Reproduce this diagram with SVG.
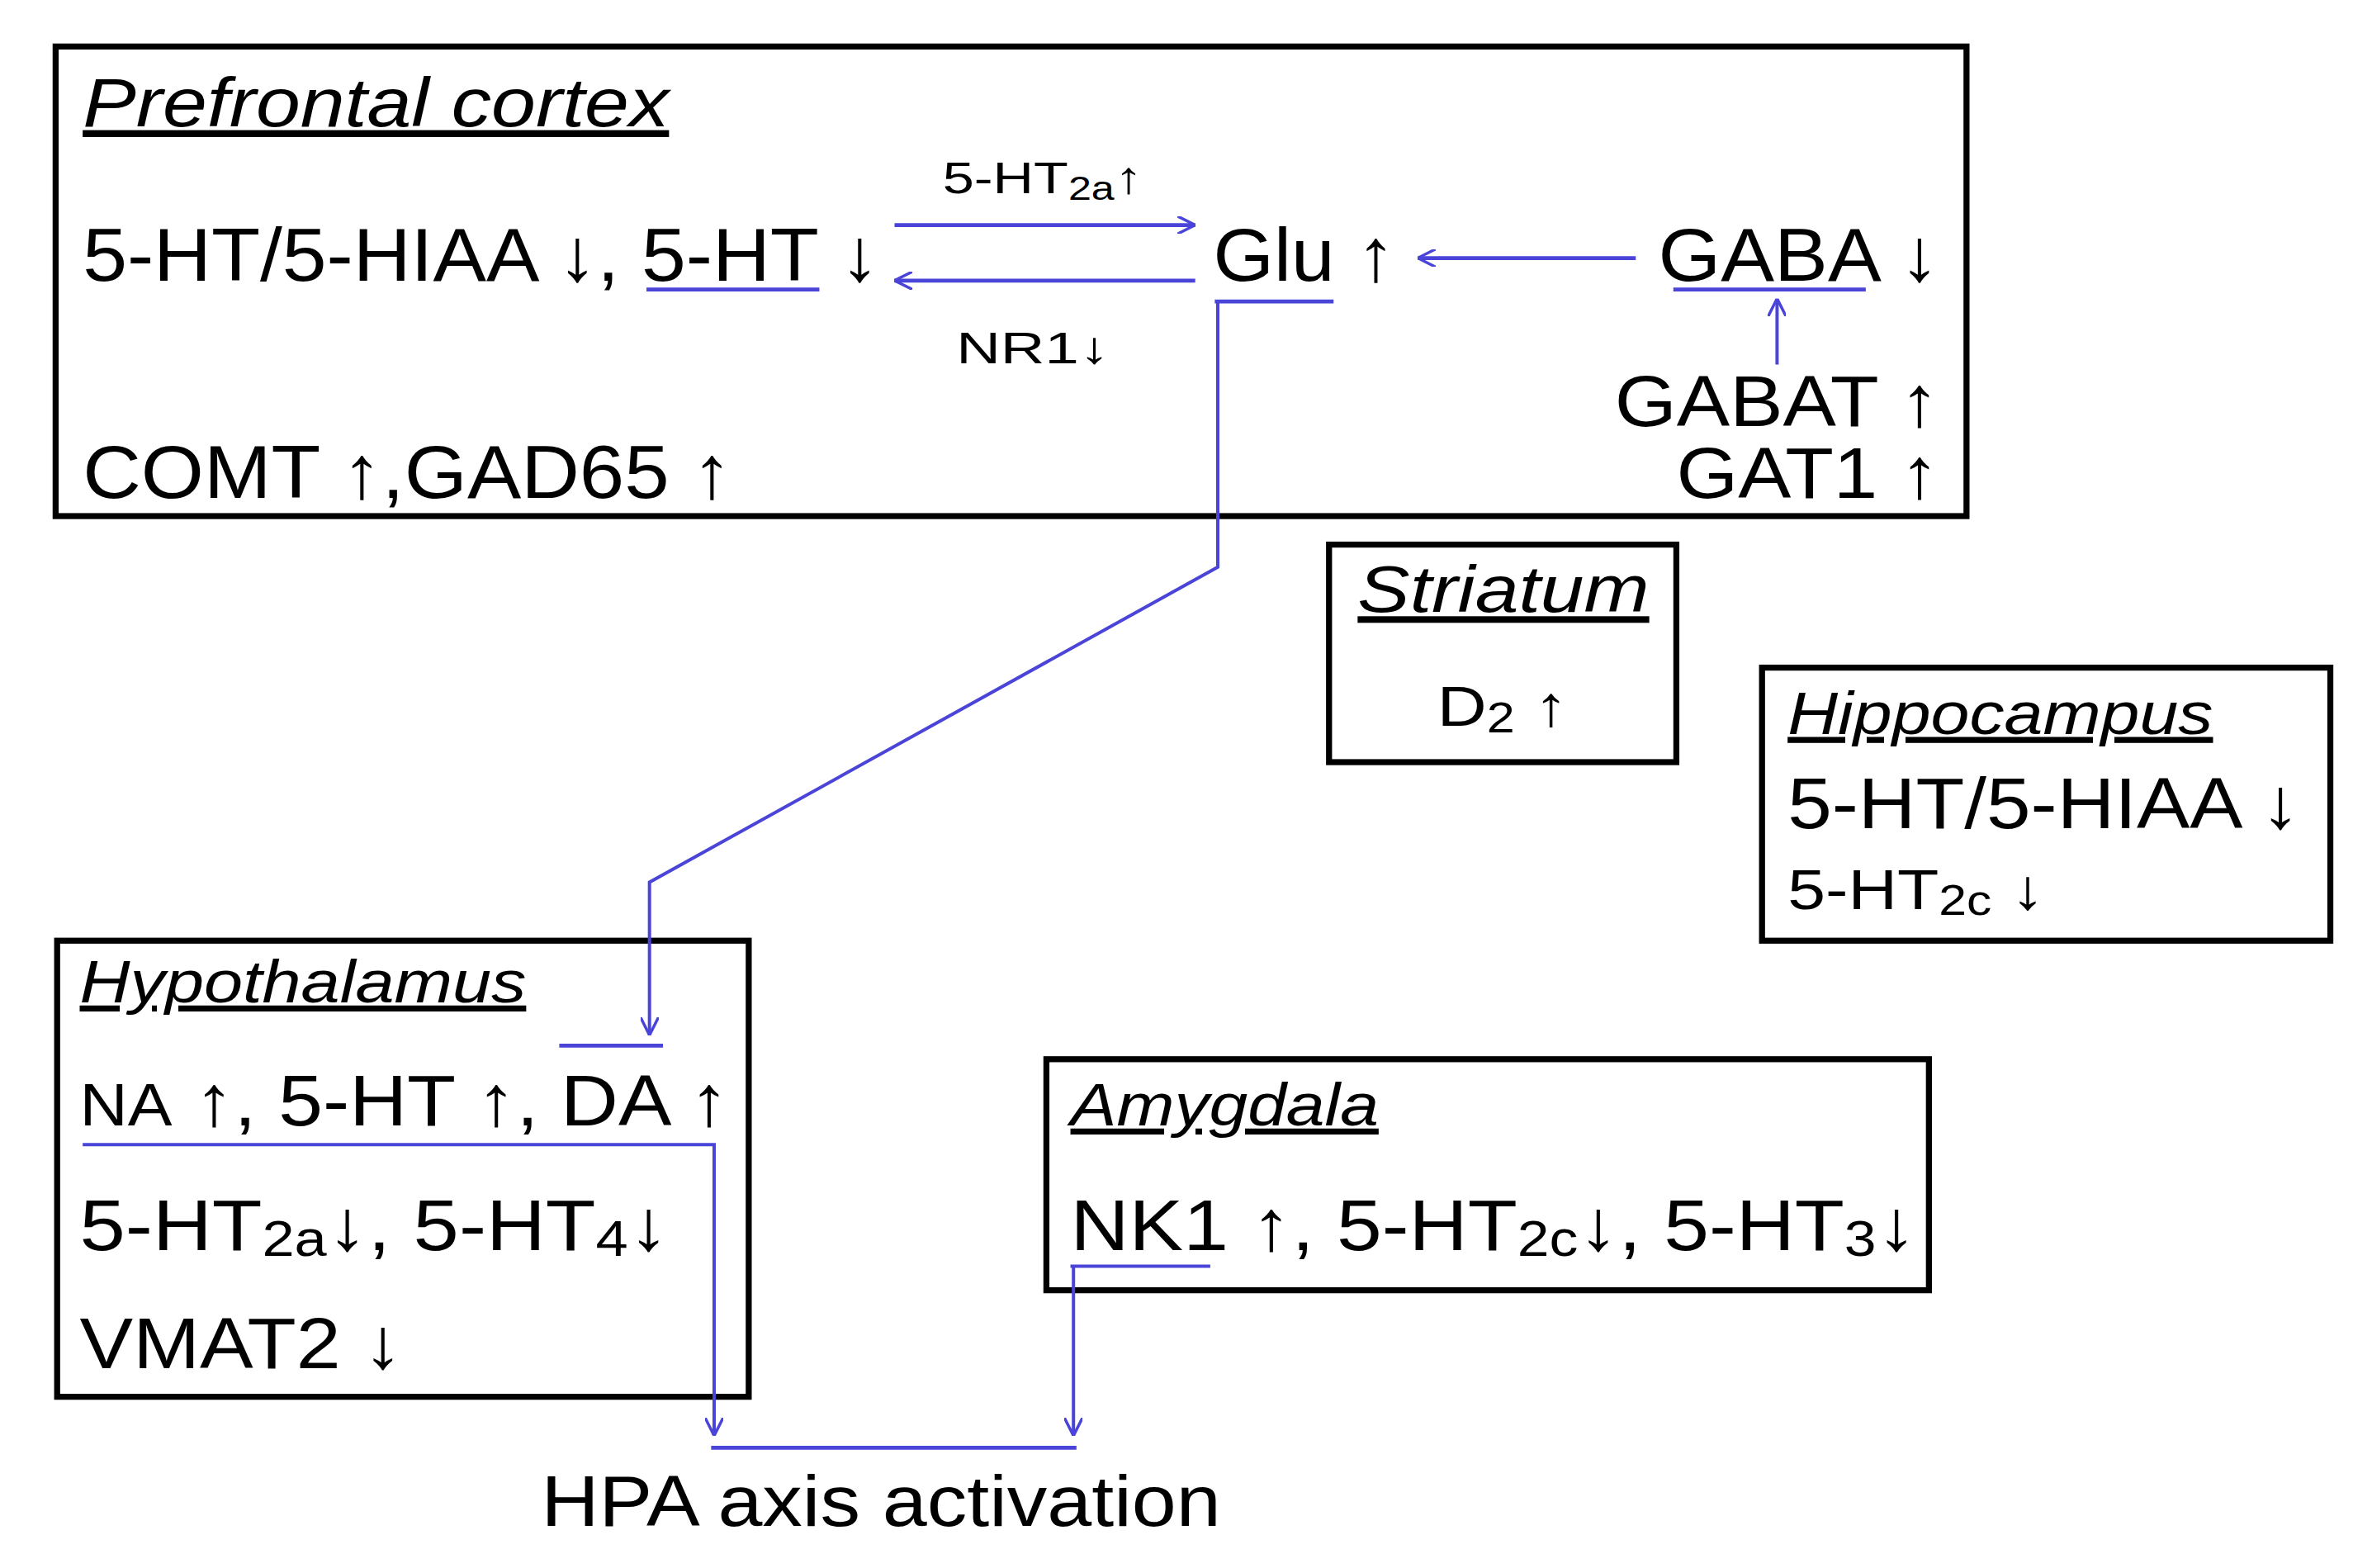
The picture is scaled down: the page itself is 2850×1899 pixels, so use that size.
<svg xmlns="http://www.w3.org/2000/svg" width="2850" height="1899" viewBox="0 0 2850 1899">
<style>
text{font-family:"Liberation Sans",Arial,sans-serif;fill:#000}
.box{fill:none;stroke:#000;stroke-width:4}
.t{font-style:italic;text-decoration:underline}
.c{fill:none;stroke:#4a45d8;stroke-width:2.2}
.u{fill:none;stroke:#4a45d8;stroke-width:2.6}
</style>
<defs>
<marker id="a" viewBox="0 0 10 10" refX="10" refY="5" markerWidth="12" markerHeight="12" markerUnits="userSpaceOnUse" orient="auto"><path d="M0,0 L10,5 L0,10" fill="none" stroke="#4a45d8" stroke-width="1.6"/></marker>
</defs>
<rect width="2850" height="1899" fill="#fff"/>
<g transform="scale(1.821,1.817)">
<g id="pfc">
<rect class="box" x="37" y="31" width="1271" height="313"/>
<text class="t" x="55" y="84" font-size="46" textLength="390" lengthAdjust="spacingAndGlyphs">Prefrontal cortex</text>
<text x="55" y="187" font-size="50" textLength="530" lengthAdjust="spacingAndGlyphs">5-HT/5-HIAA ↓, 5-HT ↓</text>
<text x="807" y="187" font-size="50" textLength="121" lengthAdjust="spacingAndGlyphs">Glu ↑</text>
<text x="1103" y="187" font-size="50" textLength="187" lengthAdjust="spacingAndGlyphs">GABA ↓</text>
<text x="627" y="129" font-size="30" textLength="133" lengthAdjust="spacingAndGlyphs">5-HT<tspan font-size="22" dy="4">2a</tspan><tspan dy="-4">↑</tspan></text>
<text x="636" y="242" font-size="30" textLength="102" lengthAdjust="spacingAndGlyphs">NR1↓</text>
<text x="1074" y="284" font-size="48" textLength="216" lengthAdjust="spacingAndGlyphs">GABAT ↑</text>
<text x="1115" y="332" font-size="48" textLength="175" lengthAdjust="spacingAndGlyphs">GAT1 ↑</text>
<text x="55" y="332" font-size="50" textLength="432" lengthAdjust="spacingAndGlyphs">COMT ↑,GAD65 ↑</text>
</g>
<g id="striatum">
<rect class="box" x="884" y="363" width="231" height="145"/>
<text class="t" x="903" y="408" font-size="44" textLength="194" lengthAdjust="spacingAndGlyphs">Striatum</text>
<text x="956" y="484" font-size="38" textLength="87" lengthAdjust="spacingAndGlyphs">D<tspan font-size="28" dy="4">2</tspan><tspan dy="-4"> ↑</tspan></text>
</g>
<g id="hippocampus">
<rect class="box" x="1172" y="445" width="378" height="182"/>
<text class="t" x="1189" y="489" font-size="40" textLength="283" lengthAdjust="spacingAndGlyphs">Hippocampus</text>
<text x="1189" y="552" font-size="48" textLength="341" lengthAdjust="spacingAndGlyphs">5-HT/5-HIAA ↓</text>
<text x="1189" y="606" font-size="38" textLength="171" lengthAdjust="spacingAndGlyphs">5-HT<tspan font-size="28" dy="4">2c</tspan><tspan dy="-4"> ↓</tspan></text>
</g>
<g id="hypothalamus">
<rect class="box" x="38" y="627" width="460" height="304"/>
<text class="t" x="53" y="668" font-size="40" textLength="297" lengthAdjust="spacingAndGlyphs">Hypothalamus</text>
<text x="53" y="750" font-size="48" textLength="432" lengthAdjust="spacingAndGlyphs"><tspan font-size="40">NA</tspan> ↑, 5-HT ↑, DA ↑</text>
<text x="53" y="833" font-size="48" textLength="392" lengthAdjust="spacingAndGlyphs">5-HT<tspan font-size="34" dy="4">2a</tspan><tspan dy="-4">↓, 5-HT</tspan><tspan font-size="34" dy="4">4</tspan><tspan dy="-4">↓</tspan></text>
<text x="53" y="912" font-size="48" textLength="215" lengthAdjust="spacingAndGlyphs">VMAT2 ↓</text>
</g>
<g id="amygdala">
<rect class="box" x="696" y="706" width="587" height="154"/>
<text class="t" x="712" y="750" font-size="40" textLength="205" lengthAdjust="spacingAndGlyphs">Amygdala</text>
<text x="712" y="833" font-size="48" textLength="563" lengthAdjust="spacingAndGlyphs">NK1 ↑, 5-HT<tspan font-size="34" dy="4">2c</tspan><tspan dy="-4">↓, 5-HT</tspan><tspan font-size="34" dy="4">3</tspan><tspan dy="-4">↓</tspan></text>
</g>
<g id="hpa">
<text x="360" y="1017" font-size="48" textLength="452" lengthAdjust="spacingAndGlyphs">HPA axis activation</text>
</g>
<g id="connectors">
<line class="u" x1="595" y1="150" x2="795" y2="150" marker-end="url(#a)"/>
<line class="u" x1="795" y1="187" x2="595" y2="187" marker-end="url(#a)"/>
<line class="u" x1="1088" y1="172" x2="943" y2="172" marker-end="url(#a)"/>
<line class="c" x1="1182" y1="243" x2="1182" y2="199" marker-end="url(#a)"/>
<line class="u" x1="430" y1="193" x2="545" y2="193"/>
<line class="u" x1="808" y1="201" x2="887" y2="201"/>
<line class="u" x1="1113" y1="193" x2="1241" y2="193"/>
<polyline class="c" points="810,201 810,378 432,588 432,690" marker-end="url(#a)"/>
<line class="u" x1="372" y1="697" x2="441" y2="697"/>
<polyline class="c" points="55,763 475,763 475,957" marker-end="url(#a)"/>
<polyline class="c" points="712,844 805,844" />
<polyline class="c" points="714,844 714,957" marker-end="url(#a)"/>
<line class="u" x1="473" y1="965" x2="716" y2="965"/>
</g>
</g>
</svg>
